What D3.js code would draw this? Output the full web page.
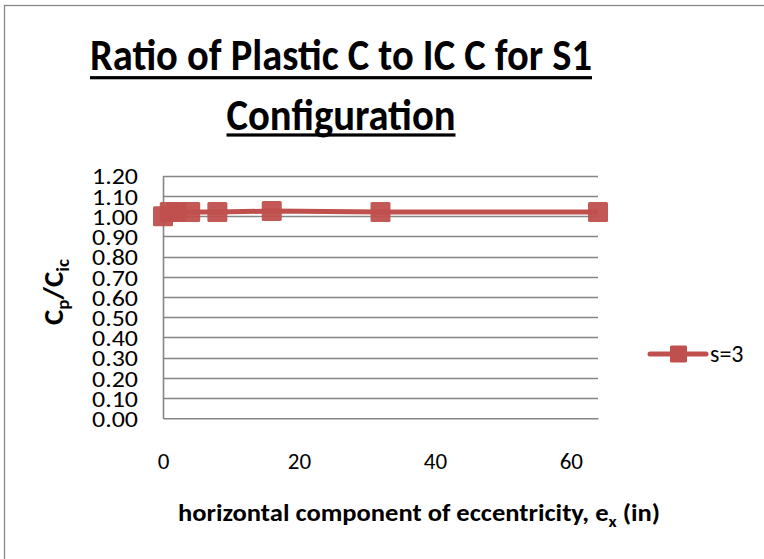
<!DOCTYPE html>
<html><head><meta charset="utf-8">
<script src="https://cdn.jsdelivr.net/npm/d3@7"></script>
<style>body{margin:0;background:#fff}svg{display:block}</style>
</head><body>
<script>
const xValues = [0, 1, 2, 4, 8, 16, 32, 64];
const yValues = [1.00, 1.02, 1.02, 1.02, 1.02, 1.025, 1.02, 1.02];
const seriesName = "s=3";
const xTicks = [0, 20, 40, 60];
const yTicks = [0, 0.1, 0.2, 0.3, 0.4, 0.5, 0.6, 0.7, 0.8, 0.9, 1.0, 1.1, 1.2];
const titleLines = ["Ratio of Plastic C to IC C for S1", "Configuration"];

const W = 764, H = 559;
const font = "Carlito, Lato, 'Open Sans', sans-serif";
const red = "#C0504D", grid = "#868686";
const svg = d3.select("body").append("svg").attr("width", W).attr("height", H);
svg.append("rect").attr("width", W).attr("height", H).attr("fill", "#fff");
svg.append("rect").attr("x", 4.5).attr("y", 5.5).attr("width", W + 10).attr("height", H + 10)
  .attr("fill", "none").attr("stroke", "#888").attr("stroke-width", 1.3);

const x = d3.scaleLinear().domain([0, 64]).range([163, 598]);
const y = d3.scaleLinear().domain([0, 1.2]).range([418.3, 175.7]);

// title
const tl = [{t: titleLines[0], y: 70, w: 502, uy: 77.7}, {t: titleLines[1], y: 130, w: 229, uy: 135}];
tl.forEach(d => {
  svg.append("text").attr("x", 341).attr("y", d.y).attr("text-anchor", "middle")
    .attr("font-family", font).attr("font-weight", "bold").attr("font-size", 44)
    .attr("textLength", d.w).attr("lengthAdjust", "spacingAndGlyphs").text(d.t);
  svg.append("rect").attr("x", 341 - d.w / 2).attr("y", d.uy - 1.6).attr("width", d.w).attr("height", 3.2).attr("fill", "#000");
});

// gridlines
svg.append("g").selectAll("line").data(yTicks.slice(1)).join("line")
  .attr("x1", x(0)).attr("x2", x(64)).attr("y1", d => Math.round(y(d)) + 0.5).attr("y2", d => Math.round(y(d)) + 0.5)
  .attr("stroke", grid).attr("stroke-width", 1.3);

// axes
const ya = svg.append("g").attr("transform", `translate(${x(0)},0)`)
  .call(d3.axisLeft(y).tickValues(yTicks).tickFormat(d3.format(".2f")).tickSize(0).tickPadding(25));
ya.select(".domain").attr("stroke", grid).attr("stroke-width", 1.6);
ya.selectAll("text").attr("font-family", font).attr("font-size", 23).attr("fill", "#000").attr("dy", "0.36em")
  .attr("textLength", 46).attr("lengthAdjust", "spacingAndGlyphs");

const xa = svg.append("g").attr("transform", `translate(0,${y(0)})`)
  .call(d3.axisBottom(x).tickValues(xTicks).tickSize(0).tickPadding(34));
xa.select(".domain").attr("stroke", grid).attr("stroke-width", 1.6);
xa.selectAll("text").attr("font-family", font).attr("font-size", 23).attr("fill", "#000");

// series line and markers
const pts = xValues.map((v, i) => [v, yValues[i]]);
svg.append("path").datum(pts).attr("fill", "none").attr("stroke", red).attr("stroke-width", 5)
  .attr("d", d3.line().x(d => x(d[0])).y(d => y(d[1])));
svg.append("g").selectAll("rect").data(pts).join("rect")
  .attr("x", d => x(d[0]) - 10).attr("y", d => y(d[1]) - 10).attr("width", 20).attr("height", 20)
  .attr("rx", 1.5).attr("fill", red).attr("fill-opacity", 0.95);

// axis titles
const xt = svg.append("text").attr("x", 419).attr("y", 521).attr("text-anchor", "middle")
  .attr("font-family", font).attr("font-weight", "bold").attr("font-size", 24)
  .attr("textLength", 482).attr("lengthAdjust", "spacingAndGlyphs");
xt.append("tspan").text("horizontal component of eccentricity, e");
xt.append("tspan").attr("font-size", 16).attr("dy", 6).text("x");
xt.append("tspan").attr("dy", -6).text(" (in)");

const yt = svg.append("text").attr("transform", "translate(63,292) rotate(-90)").attr("text-anchor", "middle")
  .attr("font-family", font).attr("font-weight", "bold").attr("font-size", 29);
yt.append("tspan").text("C");
yt.append("tspan").attr("font-size", 19).attr("dy", 6).text("p");
yt.append("tspan").attr("dy", -6).text("/C");
yt.append("tspan").attr("font-size", 19).attr("dy", 6).text("ic");

// legend
svg.append("line").attr("x1", 650).attr("x2", 706).attr("y1", 354).attr("y2", 354)
  .attr("stroke", red).attr("stroke-width", 5).attr("stroke-linecap", "round");
svg.append("rect").attr("x", 670).attr("y", 345.5).attr("width", 17).attr("height", 17).attr("rx", 1.5).attr("fill", red);
svg.append("text").attr("x", 710).attr("y", 362).attr("font-family", font).attr("font-size", 24).text(seriesName);
</script>
</body></html>
